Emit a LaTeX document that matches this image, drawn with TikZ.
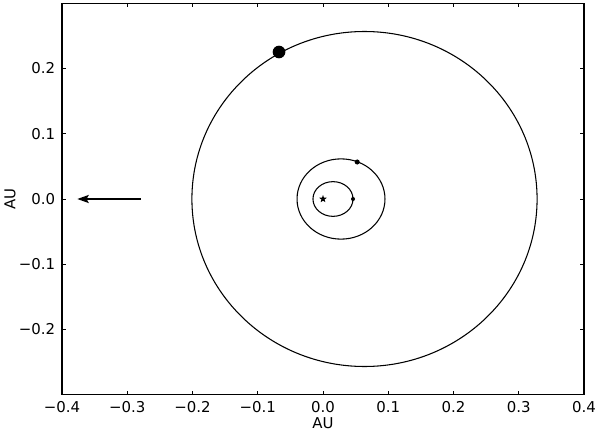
\documentclass[tikz,border=0pt]{standalone}
\usepackage{fontspec}
\setmainfont{DejaVu Sans}
\usetikzlibrary{arrows.meta,shapes.geometric}
\begin{document}
\begin{tikzpicture}[x=489.375pt,y=489.375pt,
  font=\fontsize{11.2}{13}\selectfont,
  frame/.style={line width=0.8pt},
  tickmark/.style={line width=0.6pt},
  orbit/.style={line width=0.8pt},
  planet/.style={circle,fill=black,inner sep=0pt},
  xlab/.style={anchor=north,inner sep=0pt,yshift=-4.5pt},
  ylab/.style={anchor=east,inner sep=0pt,xshift=-5pt}]
\useasboundingbox (-0.49502,-0.35862) rectangle (0.42452,0.30498);
% axes frame
\draw[frame] (-0.4,-0.3) rectangle (0.4,0.3);
% x ticks
\foreach \v/\t in {-0.4/−0.4,-0.3/−0.3,-0.2/−0.2,-0.1/−0.1,0/0.0,0.1/0.1,0.2/0.2,0.3/0.3,0.4/0.4}{
  \draw[tickmark] (\v,-0.3) -- ++(0,0.0061);
  \draw[tickmark] (\v,0.3) -- ++(0,-0.0061);
  \node[xlab] (xt\v) at (\v,-0.3) {\t};
}
% y ticks
\foreach \v/\t in {-0.2/−0.2,-0.1/−0.1,0/0.0,0.1/0.1,0.2/0.2}{
  \draw[tickmark] (-0.4,\v) -- ++(0.0061,0);
  \draw[tickmark] (0.4,\v) -- ++(-0.0061,0);
  \node[ylab] (yt\v) at (-0.4,\v) {\t};
}
\node (xaxislabel) at (0,-0.3433) {AU};
\node[rotate=90] (yaxislabel) at (-0.4797,0) {AU};
% orbits
\draw[orbit] (0.0636,0) ellipse [x radius=0.2645, y radius=0.2567];
\draw[orbit] (0.0276,0) ellipse [x radius=0.0674, y radius=0.0615];
\draw[orbit] (0.0153,0) ellipse [x radius=0.0307, y radius=0.0266];
% star and planets
\node[star,star points=5,star point ratio=2.4,fill=black,inner sep=0pt,minimum size=6pt] (star) at (0,0) {};
\node[planet,minimum size=9.5pt] (p3) at (-0.0674,0.2253) {};
\node[planet,minimum size=3.8pt] (p2) at (0.0524,0.0567) {};
\node[planet,minimum size=3pt] (p1) at (0.0460,0) {};
% arrow
\coordinate (arrowstart) at (-0.2790,0);
\coordinate (arrowend) at (-0.3765,0);
\draw[line width=1.2pt,-{Stealth[length=8.5pt,width=6pt,inset=1.5pt]}] (arrowstart) -- (arrowend);
\end{tikzpicture}
\end{document}
